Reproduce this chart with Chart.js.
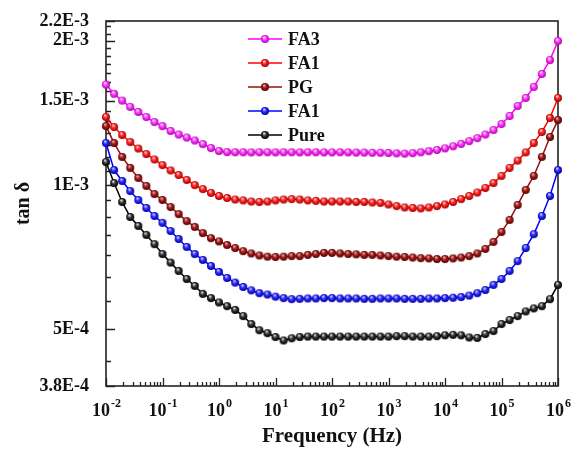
<!DOCTYPE html>
<html>
<head>
<meta charset="utf-8">
<script src="https://cdn.jsdelivr.net/npm/chart.js@4.4.0/dist/chart.umd.min.js"></script>
<style>
  html, body { margin: 0; padding: 0; background: #fff; }
</style>
</head>
<body>
<canvas id="tanDeltaChart" width="572" height="454"></canvas>
<script>

// frequency (Hz), 7 points per decade
const frequencies = [
  0.01, 0.0139, 0.0193, 0.0268, 0.0373, 0.0518, 0.072,
  0.1, 0.139, 0.193, 0.268, 0.373, 0.518, 0.72,
  1, 1.39, 1.93, 2.68, 3.73, 5.18, 7.2,
  10, 13.9, 19.3, 26.8, 37.3, 51.8, 72,
  100, 139, 193, 268, 373, 518, 720,
  1000, 1390, 1930, 2680, 3730, 5180, 7200,
  1e4, 13900, 19300, 26800, 37300, 51800, 72000,
  1e5, 139000, 193000, 268000, 373000, 518000, 720000,
  1e6
]

// tan delta, in units of 1E-3
const fa3 = [
  1.62, 1.55, 1.50, 1.455, 1.42, 1.386, 1.353,
  1.327, 1.296, 1.274, 1.256, 1.238, 1.217, 1.194,
  1.177, 1.171, 1.170, 1.170, 1.169, 1.170, 1.170,
  1.169, 1.170, 1.170, 1.169, 1.170, 1.170, 1.169,
  1.169, 1.170, 1.169, 1.168, 1.168, 1.167, 1.167,
  1.166, 1.164, 1.162, 1.165, 1.170, 1.176, 1.183,
  1.192, 1.204, 1.218, 1.234, 1.252, 1.274, 1.302,
  1.340, 1.393, 1.462, 1.519, 1.602, 1.705, 1.823,
  1.998
]
const fa1 = [
  1.386, 1.321, 1.271, 1.229, 1.191, 1.160, 1.130,
  1.100, 1.072, 1.049, 1.024, 0.999, 0.980, 0.962,
  0.948, 0.939, 0.932, 0.928, 0.923, 0.921, 0.923,
  0.928, 0.932, 0.934, 0.932, 0.928, 0.926, 0.923,
  0.923, 0.923, 0.923, 0.921, 0.921, 0.919, 0.917,
  0.910, 0.903, 0.897, 0.895, 0.893, 0.897, 0.903,
  0.910, 0.921, 0.934, 0.948, 0.964, 0.985, 1.009,
  1.044, 1.085, 1.124, 1.169, 1.223, 1.290, 1.380,
  1.519
]
const pg = [
  1.327, 1.223, 1.144, 1.085, 1.034, 0.995, 0.957,
  0.930, 0.899, 0.869, 0.840, 0.817, 0.793, 0.774,
  0.762, 0.749, 0.738, 0.727, 0.719, 0.712, 0.708,
  0.707, 0.708, 0.710, 0.710, 0.714, 0.717, 0.721,
  0.721, 0.719, 0.717, 0.716, 0.714, 0.714, 0.712,
  0.710, 0.708, 0.707, 0.705, 0.703, 0.702, 0.700,
  0.700, 0.702, 0.705, 0.710, 0.719, 0.735, 0.760,
  0.797, 0.845, 0.908, 0.976, 1.044, 1.144, 1.259,
  1.366
]
const fa1Blue = [
  1.223, 1.074, 1.019, 0.971, 0.930, 0.895, 0.861,
  0.833, 0.801, 0.771, 0.742, 0.717, 0.697, 0.677,
  0.658, 0.639, 0.625, 0.612, 0.602, 0.594, 0.590,
  0.584, 0.580, 0.577, 0.578, 0.579, 0.579, 0.580,
  0.580, 0.579, 0.579, 0.579, 0.578, 0.578, 0.579,
  0.579, 0.579, 0.578, 0.578, 0.578, 0.579, 0.579,
  0.580, 0.581, 0.583, 0.587, 0.594, 0.603, 0.618,
  0.636, 0.661, 0.693, 0.738, 0.789, 0.861, 0.948,
  1.074
]
const pure = [
  1.116, 1.009, 0.921, 0.857, 0.821, 0.786, 0.752,
  0.717, 0.688, 0.661, 0.636, 0.615, 0.592, 0.580,
  0.568, 0.558, 0.548, 0.532, 0.512, 0.497, 0.490,
  0.481, 0.473, 0.478, 0.481, 0.482, 0.482, 0.482,
  0.482, 0.482, 0.482, 0.482, 0.482, 0.482, 0.482,
  0.482, 0.483, 0.483, 0.482, 0.482, 0.482, 0.483,
  0.485, 0.486, 0.485, 0.480, 0.479, 0.488, 0.495,
  0.512, 0.522, 0.532, 0.544, 0.552, 0.558, 0.577,
  0.618
]

const seriesNames = ['FA3', 'FA1', 'PG', 'FA1', 'Pure']
const seriesValues = [fa3, fa1, pg, fa1Blue, pure]

// y axis labels (value in 1E-3 units -> text)
const yTickValues = [0.38, 0.5, 1, 1.5, 2, 2.2]
const yTickLabels = ['3.8E-4', '5E-4', '1E-3', '1.5E-3', '2E-3', '2.2E-3']
const xDecades = [-2, -1, 0, 1, 2, 3, 4, 5, 6]

const serif = "'Liberation Serif', 'Times New Roman', serif"

// line colour, then ball light / mid / dark
const palette = [
  ['#ff00ff', '#ffd6ff', '#ff3cff', '#b000b0'],
  ['#ff0000', '#ffc8c8', '#ff2424', '#a00000'],
  ['#9a0c0c', '#e4a8a8', '#a51a1a', '#520000'],
  ['#0000ff', '#c8c8ff', '#2b2bff', '#0000a0'],
  ['#000000', '#d8d8d8', '#333333', '#000000']
]

function makeBall(c, r) {
  const cv = document.createElement('canvas')
  cv.width = cv.height = r * 2 + 2
  const g = cv.getContext('2d')
  const m = r + 1
  const grad = g.createRadialGradient(m - r * 0.25, m - r * 0.45, 0.4, m, m, r)
  grad.addColorStop(0, c[1])
  grad.addColorStop(0.45, c[2])
  grad.addColorStop(1, c[3])
  g.fillStyle = grad
  g.beginPath()
  g.arc(m, m, r, 0, Math.PI * 2)
  g.fill()
  return cv
}

const balls = palette.map(c => makeBall(c, 4))

// y minor ticks: 7 intervals per 0.5
const yMinor = []
for (let b = 0; b < 2.5; b += 0.5) {
  for (let k = 1; k < 7; k++) {
    const v = b + k * 0.5 / 7
    if (v > 0.38 && v < 2.2) yMinor.push(v)
  }
}

const axisPlugin = {
  id: 'axisPlugin',
  beforeDatasetsDraw(chart) {
    const {ctx, chartArea: a, scales} = chart
    ctx.save()
    ctx.strokeStyle = '#222'
    ctx.lineWidth = 1.6
    ctx.strokeRect(a.left, a.top, a.right - a.left, a.bottom - a.top)
    ctx.lineWidth = 1.3
    ctx.beginPath()
    scales.x.ticks.forEach(t => {
      const px = Math.round(scales.x.getPixelForValue(t.value)) + 0.5
      const len = t.major ? 8 : 4
      ctx.moveTo(px, a.bottom)
      ctx.lineTo(px, a.bottom - len)
    })
    scales.y.ticks.forEach(t => {
      const py = Math.round(scales.y.getPixelForValue(t.value)) + 0.5
      const len = t.major ? 9 : 5
      ctx.moveTo(a.left, py)
      ctx.lineTo(a.left + len, py)
    })
    ctx.stroke()
    ctx.restore()
  },
  afterDraw(chart) {
    const {ctx, chartArea: a, scales} = chart
    ctx.save()
    ctx.fillStyle = '#111'
    ctx.textBaseline = 'alphabetic'
    // x labels 10^n
    xDecades.forEach(e => {
      const px = scales.x.getPixelForValue(Math.pow(10, e))
      const base = '10'
      const sup = e < 0 ? '-' + (-e) : String(e)
      ctx.font = 'bold 18px ' + serif
      const wb = ctx.measureText(base).width
      ctx.font = 'bold 12px ' + serif
      const ws = ctx.measureText(sup).width
      const x0 = px - (wb + ws) / 2
      ctx.font = 'bold 18px ' + serif
      ctx.textAlign = 'left'
      ctx.fillText(base, x0, a.bottom + 30)
      ctx.font = 'bold 12px ' + serif
      ctx.fillText(sup, x0 + wb + 1, a.bottom + 21)
    })
    // legend
    const lx0 = 248, lx1 = 282, ty = 39, gap = 24
    ctx.font = 'bold 18px ' + serif
    ctx.textBaseline = 'middle'
    seriesNames.forEach((name, i) => {
      const yy = ty + i * gap
      ctx.strokeStyle = palette[i][0]
      ctx.lineWidth = 1.6
      ctx.beginPath()
      ctx.moveTo(lx0, yy)
      ctx.lineTo(lx1, yy)
      ctx.stroke()
      const b = balls[i]
      ctx.drawImage(b, (lx0 + lx1) / 2 - b.width / 2, yy - b.height / 2)
      ctx.fillStyle = '#111'
      ctx.fillText(name, 288, yy + 1)
    })
    ctx.restore()
  }
}

new Chart(document.getElementById('tanDeltaChart'), {
  type: 'line',
  data: {
    datasets: seriesNames.map((name, i) => ({
      label: name,
      data: frequencies.map((f, j) => ({x: f, y: seriesValues[i][j]})),
      borderColor: palette[i][0],
      borderWidth: 1.5,
      pointStyle: balls[i],
      pointRadius: 4,
      tension: 0,
      clip: false
    }))
  },
  options: {
    responsive: false,
    animation: false,
    events: [],
    layout: {padding: {left: 0, top: 21, right: 14, bottom: 0}},
    plugins: {legend: {display: false}, tooltip: {enabled: false}},
    scales: {
      x: {
        type: 'logarithmic',
        min: 0.01,
        max: 1e6,
        grid: {display: false},
        border: {display: false},
        ticks: {display: false, autoSkip: false},
        afterBuildTicks(scale) {
          const t = []
          for (let e = -2; e <= 6; e++) {
            t.push({value: Math.pow(10, e), major: true})
            if (e < 6) for (let k = 2; k <= 9; k++) t.push({value: k * Math.pow(10, e), major: false})
          }
          scale.ticks = t
        },
        afterFit(scale) { scale.height = 68 },
        title: {
          display: true,
          text: 'Frequency (Hz)',
          color: '#111',
          font: {family: serif, weight: 'bold', size: 21},
          padding: {top: 0, bottom: 5}
        }
      },
      y: {
        type: 'logarithmic',
        min: 0.38,
        max: 2.2,
        grid: {display: false},
        border: {display: false},
        afterBuildTicks(scale) {
          const t = yTickValues.map(v => ({value: v, major: true}))
          yMinor.forEach(v => t.push({value: v, major: false}))
          scale.ticks = t
        },
        ticks: {
          autoSkip: false,
          padding: 9,
          color: '#111',
          font: {family: serif, weight: 'bold', size: 18},
          callback(value) {
            const k = yTickValues.indexOf(value)
            return k >= 0 ? yTickLabels[k] : ''
          }
        },
        afterFit(scale) { scale.width = 106 },
        title: {
          display: true,
          text: 'tan δ',
          color: '#111',
          font: {family: serif, weight: 'bold', size: 20},
          padding: {top: 12, bottom: 0}
        }
      }
    }
  },
  plugins: [axisPlugin]
})
</script>
</body>
</html>
